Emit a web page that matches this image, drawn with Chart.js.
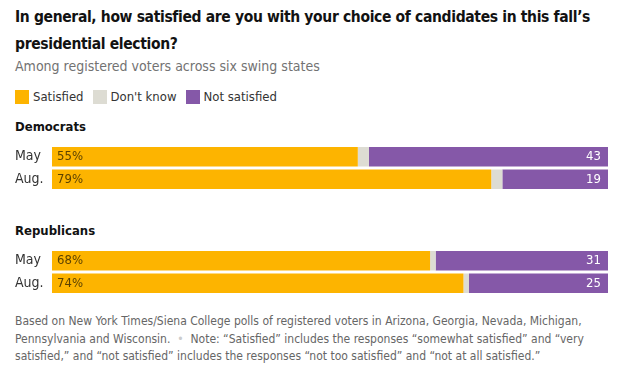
<!DOCTYPE html>
<html>
<head>
<meta charset="utf-8">
<script src="https://cdn.jsdelivr.net/npm/chart.js@4"></script>
<style>
  body { margin: 0; background: #fff; width: 632px; height: 376px; position: relative; overflow: hidden;
         font-family: "DejaVu Sans Condensed", "DejaVu Sans", sans-serif; color: #121212; }
  .abs { position: absolute; left: 15px; }
  #title { top: 4px; width: 600px; font-size: 15.5px; letter-spacing: -0.35px; font-weight: bold; line-height: 27px; color: #121212; }
  #subtitle { top: 58px; font-size: 14px; color: #727272; }
  #legend { top: 89px; font-size: 13px; color: #333; display: flex; align-items: center; }
  #legend .sw { display: inline-block; width: 14px; height: 14px; margin-right: 4px; }
  #legend .lb { margin-right: 9px; }
  .group { font-size: 13px; font-weight: bold; color: #121212; }
  #notes { top: 313px; width: 600px; font-size: 12px; line-height: 17.5px; color: #666; }
  canvas { position: absolute; left: 0; width: 632px; height: 62px; }
</style>
</head>
<body>
<div id="title" class="abs">In general, how satisfied are you with your choice of candidates in this fall’s presidential election?</div>
<div id="subtitle" class="abs">Among registered voters across six swing states</div>
<div id="legend" class="abs"></div>
<div class="abs group" style="top:119px">Democrats</div>
<div class="abs group" style="top:223px">Republicans</div>
<canvas id="demChart" width="632" height="62" style="top:137px"></canvas>
<canvas id="repChart" width="632" height="62" style="top:241px"></canvas>
<div id="notes" class="abs">Based on New York Times/Siena College polls of registered voters in Arizona, Georgia, Nevada, Michigan, Pennsylvania and Wisconsin. <span style="color:#ccc">&nbsp;•&nbsp;</span> Note: “Satisfied” includes the responses “somewhat satisfied” and “very satisfied,” and “not satisfied” includes the responses “not too satisfied” and “not at all satisfied.”</div>

<script>
// Дані
const months = ["May", "Aug."];
const seriesNames = ["Satisfied", "Don't know", "Not satisfied"];
const colors = ["#fdb400", "#dddcd3", "#8558a8"];

const demSatisfied = [55, 79];
const demDontKnow = [2, 2];
const demNotSatisfied = [43, 19];

const repSatisfied = [68, 74];
const repDontKnow = [1, 1];
const repNotSatisfied = [31, 25];

const FONT = '"DejaVu Sans Condensed", "DejaVu Sans", sans-serif';

// Легенда
const legend = document.getElementById("legend");
seriesNames.forEach((name, i) => {
    legend.insertAdjacentHTML("beforeend",
        `<span class="sw" style="background:${colors[i]}"></span><span class="lb">${name}</span>`);
});

// Підписи всередині смуг
const barLabels = {
    id: "barLabels",
    afterDatasetsDraw(chart) {
        const ctx = chart.ctx;
        ctx.save();
        ctx.font = `13px ${FONT}`;
        ctx.textBaseline = "middle";
        const first = chart.getDatasetMeta(0);
        const last = chart.getDatasetMeta(2);
        first.data.forEach((bar, i) => {
            ctx.fillStyle = "#5c4200";
            ctx.textAlign = "left";
            ctx.fillText(chart.data.datasets[0].data[i] + "%", bar.base + 5, bar.y);
        });
        last.data.forEach((bar, i) => {
            ctx.fillStyle = "#ffffff";
            ctx.textAlign = "right";
            ctx.fillText(chart.data.datasets[2].data[i], bar.x - 7, bar.y);
        });
        ctx.restore();
    }
};

function makeChart(id, values) {
    return new Chart(document.getElementById(id), {
        type: "bar",
        plugins: [barLabels],
        data: {
            labels: months,
            datasets: values.map((v, i) => ({
                label: seriesNames[i],
                data: v,
                backgroundColor: colors[i],
                borderWidth: 0,
                categoryPercentage: 1,
                barPercentage: 0.865
            }))
        },
        options: {
            indexAxis: "y",
            responsive: false,
            animation: false,
            layout: { padding: { left: 15, right: 24, top: 0, bottom: 0 } },
            plugins: { legend: { display: false }, tooltip: { enabled: false } },
            scales: {
                x: { stacked: true, min: 0, max: 100, display: false },
                y: {
                    stacked: true,
                    grid: { display: false },
                    border: { display: false },
                    ticks: { color: "#333", font: { family: FONT, size: 14 }, crossAlign: "far", padding: 0 },
                    afterFit: (scale) => { scale.width = 37; }
                }
            }
        }
    });
}

makeChart("demChart", [demSatisfied, demDontKnow, demNotSatisfied]);
makeChart("repChart", [repSatisfied, repDontKnow, repNotSatisfied]);
</script>
</body>
</html>
